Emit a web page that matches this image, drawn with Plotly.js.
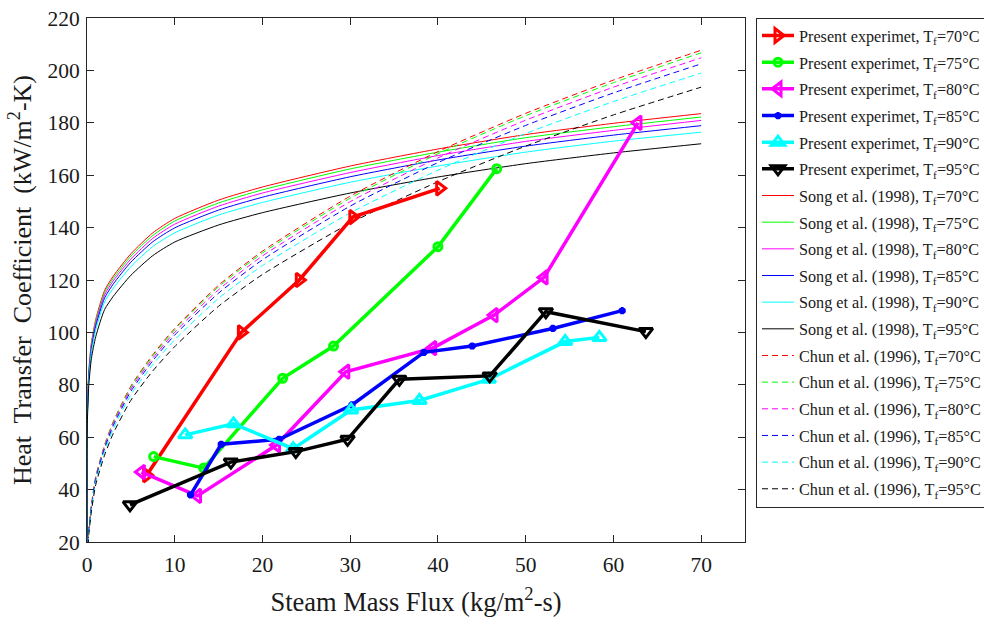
<!DOCTYPE html>
<html>
<head>
<meta charset="utf-8">
<script src="https://cdn.plot.ly/plotly-3.0.1.min.js"></script>
<style>body{margin:0;padding:0;background:#fff;} #chart{width:984px;height:617px;}</style>
</head>
<body>
<div id="chart"></div>
<script>
// ---- Experimental data (Present experiment) ----
const exp70x = [6.8, 17.6, 24.2, 30.3, 40.2];
const exp70y = [45.5, 100, 120, 144, 155];
const exp75x = [7.6, 13.3, 22.3, 28.1, 40.0, 46.7];
const exp75y = [52.6, 48.2, 82.5, 94.8, 132.7, 162.5];
const exp80x = [6.2, 12.6, 21.6, 29.5, 39.4, 46.4, 52.1, 62.8];
const exp80y = [46.7, 37.6, 57, 85, 94, 106.6, 121, 180];
const exp85x = [11.8, 15.3, 21.9, 30.2, 38.4, 43.9, 53.1, 61.0];
const exp85y = [38, 57.3, 59.2, 72.3, 92.4, 94.8, 101.5, 108.3];
const exp90x = [11.2, 16.7, 23.5, 30.1, 37.9, 45.8, 54.5, 58.4];
const exp90y = [60.9, 65.1, 55.6, 70.4, 74, 82.1, 96.5, 98.1];
const exp95x = [4.9, 16.4, 23.8, 29.7, 35.6, 45.9, 52.3, 63.7];
const exp95y = [34.2, 50.5, 54.5, 59.2, 82.1, 83.4, 107.9, 100.3];

// ---- Song et al. (1998) correlation curves ----
const songX   = [0, 0.01, 0.05, 0.2, 0.5, 1, 2, 3, 5, 7.5, 10, 15, 20, 30, 40, 50, 60, 70];
const song70  = [20, 58, 71, 85, 96, 105, 116, 121.5, 130, 138, 143.5, 150.5, 155.5, 163.5, 170, 175.5, 179.8, 183.5];
const song75  = [20, 57.6, 70.5, 84.4, 95.3, 104.3, 115.2, 120.6, 129.1, 137, 142.5, 149.4, 154.4, 162.4, 168.8, 174.3, 178.5, 182.2];
const song80  = [20, 57.1, 69.9, 83.7, 94.6, 103.4, 114.3, 119.7, 128, 135.9, 141.3, 148.2, 153.2, 161, 167.5, 172.9, 177.1, 180.9];
const song85  = [20, 56.6, 69.2, 82.9, 93.6, 102.4, 113.1, 118.5, 126.8, 134.6, 139.9, 146.7, 151.6, 159.4, 165.8, 171.1, 175.3, 178.9];
const song90  = [20, 55.8, 68.3, 81.8, 92.4, 101, 111.6, 116.9, 125.1, 132.8, 138, 144.8, 149.6, 157.3, 163.5, 168.8, 173, 176.4];
const song95  = [20, 54.3, 66.5, 79.6, 90, 98.4, 108.7, 113.8, 121.8, 129.3, 134.5, 141, 145.7, 153.2, 159.3, 164.4, 168.5, 172];

// ---- Chun et al. (1996) correlation curves ----
const chunX   = [0.12, 0.2, 0.5, 1, 2, 3, 5, 7.5, 10, 15, 20, 30, 40, 50, 60, 70];
const chun70  = [20, 24.5, 34, 45, 57, 66, 79.5, 91.5, 101.5, 118, 131, 152, 169, 183.6, 196.3, 207.7];
const chun75  = [19.9, 24.4, 33.8, 44.8, 56.7, 65.7, 79.1, 91, 101, 117.4, 130.3, 151.2, 168.2, 182.7, 195.3, 206.7];
const chun80  = [19.7, 24.2, 33.5, 44.4, 56.2, 65.1, 78.4, 90.2, 100.1, 116.3, 129.2, 149.9, 166.6, 181, 193.6, 204.8];
const chun85  = [19.5, 23.9, 33.2, 43.9, 55.6, 64.4, 77.5, 89.2, 99, 115, 127.7, 148.2, 164.8, 179, 191.4, 202.5];
const chun90  = [19.2, 23.5, 32.6, 43.1, 54.6, 63.2, 76.2, 87.7, 97.2, 113, 125.5, 145.6, 161.9, 175.9, 188.1, 199];
const chun95  = [18.6, 22.8, 31.7, 41.9, 53.1, 61.5, 74.1, 85.3, 94.6, 110, 122.1, 141.7, 157.5, 171.1, 183, 193.6];

const temps = ['70', '75', '80', '85', '90', '95'];
const colors = ['#ff0000', '#00ff00', '#ff00ff', '#0000ff', '#00ffff', '#000000'];
const symbols = ['triangle-right-open', 'circle-open', 'triangle-left-open', 'asterisk-open', 'triangle-up-open', 'triangle-down-open'];
const markerSizes = [12, 8, 12, 6, 12, 12];

const expX = [exp70x, exp75x, exp80x, exp85x, exp90x, exp95x];
const expY = [exp70y, exp75y, exp80y, exp85y, exp90y, exp95y];
const songY = [song70, song75, song80, song85, song90, song95];
const chunY = [chun70, chun75, chun80, chun85, chun90, chun95];

const label = (prefix, t) => prefix + ', T<sub>f</sub>=' + t + '°C';

const traces = [];
// Correlations drawn first (underneath), experiments on top; legend order via legendrank
for (let i = 0; i < 6; i++) {
  traces.push({
    x: songX, y: songY[i], type: 'scatter', mode: 'lines',
    name: label('Song et al. (1998)', temps[i]),
    line: {color: colors[i], width: 1, shape: 'spline', smoothing: 0.6},
    legendrank: 7 + i, legendgroup: 's' + i
  });
}
for (let i = 0; i < 6; i++) {
  traces.push({
    x: chunX, y: chunY[i], type: 'scatter', mode: 'lines',
    name: label('Chun et al. (1996)', temps[i]),
    line: {color: colors[i], width: 1, dash: '6px,4px', shape: 'spline', smoothing: 0.6},
    legendrank: 13 + i, legendgroup: 'c' + i
  });
}
for (let i = 0; i < 6; i++) {
  traces.push({
    x: expX[i], y: expY[i], type: 'scatter', mode: 'lines+markers',
    name: label('Present experimet', temps[i]),
    line: {color: colors[i], width: 3.5},
    marker: {symbol: symbols[i], size: markerSizes[i], color: colors[i], line: {color: colors[i], width: 3}},
    legendrank: 1 + i, legendgroup: 'e' + i
  });
}

const serif = 'Liberation Serif, Times New Roman, serif';
const axisCommon = {
  showline: true, linecolor: '#262626', linewidth: 1, mirror: 'ticks',
  ticks: 'inside', ticklen: 7, tickwidth: 1, tickcolor: '#262626',
  showgrid: false, zeroline: false,
  tickfont: {family: serif, size: 21.5, color: '#1a1a1a'}
};

const layout = {
  width: 984, height: 617,
  paper_bgcolor: '#ffffff', plot_bgcolor: '#ffffff',
  margin: {l: 87, r: 239, t: 18, b: 75, pad: 0},
  showlegend: true,
  xaxis: Object.assign({}, axisCommon, {
    range: [0, 75], tickvals: [0, 10, 20, 30, 40, 50, 60, 70],
    ticklabelstandoff: 3,
    title: {text: 'Steam Mass Flux (kg/m<sup>2</sup>-s)', font: {family: serif, size: 26.5, color: '#1a1a1a'}, standoff: 17}
  }),
  yaxis: Object.assign({}, axisCommon, {
    range: [20, 220], tickvals: [20, 40, 60, 80, 100, 120, 140, 160, 180, 200, 220],
    ticklabelstandoff: 2,
    title: {text: 'Heat&nbsp; Transfer&nbsp; Coefficient&nbsp; (kW/m<sup>2</sup>-K)', font: {family: serif, size: 26, color: '#1a1a1a'}, standoff: 8}
  }),
  legend: {
    xref: 'container', yref: 'container',
    x: 0.7683, xanchor: 'left', y: 0.9716, yanchor: 'top',
    maxheight: 600,
    bgcolor: '#ffffff', bordercolor: '#262626', borderwidth: 1,
    font: {family: serif, size: 16.2, color: '#1a1a1a'},
    traceorder: 'grouped', tracegroupgap: 2.6, itemwidth: 32
  }
};

Plotly.newPlot('chart', traces, layout, {displayModeBar: false, staticPlot: true});
</script>
</body>
</html>
